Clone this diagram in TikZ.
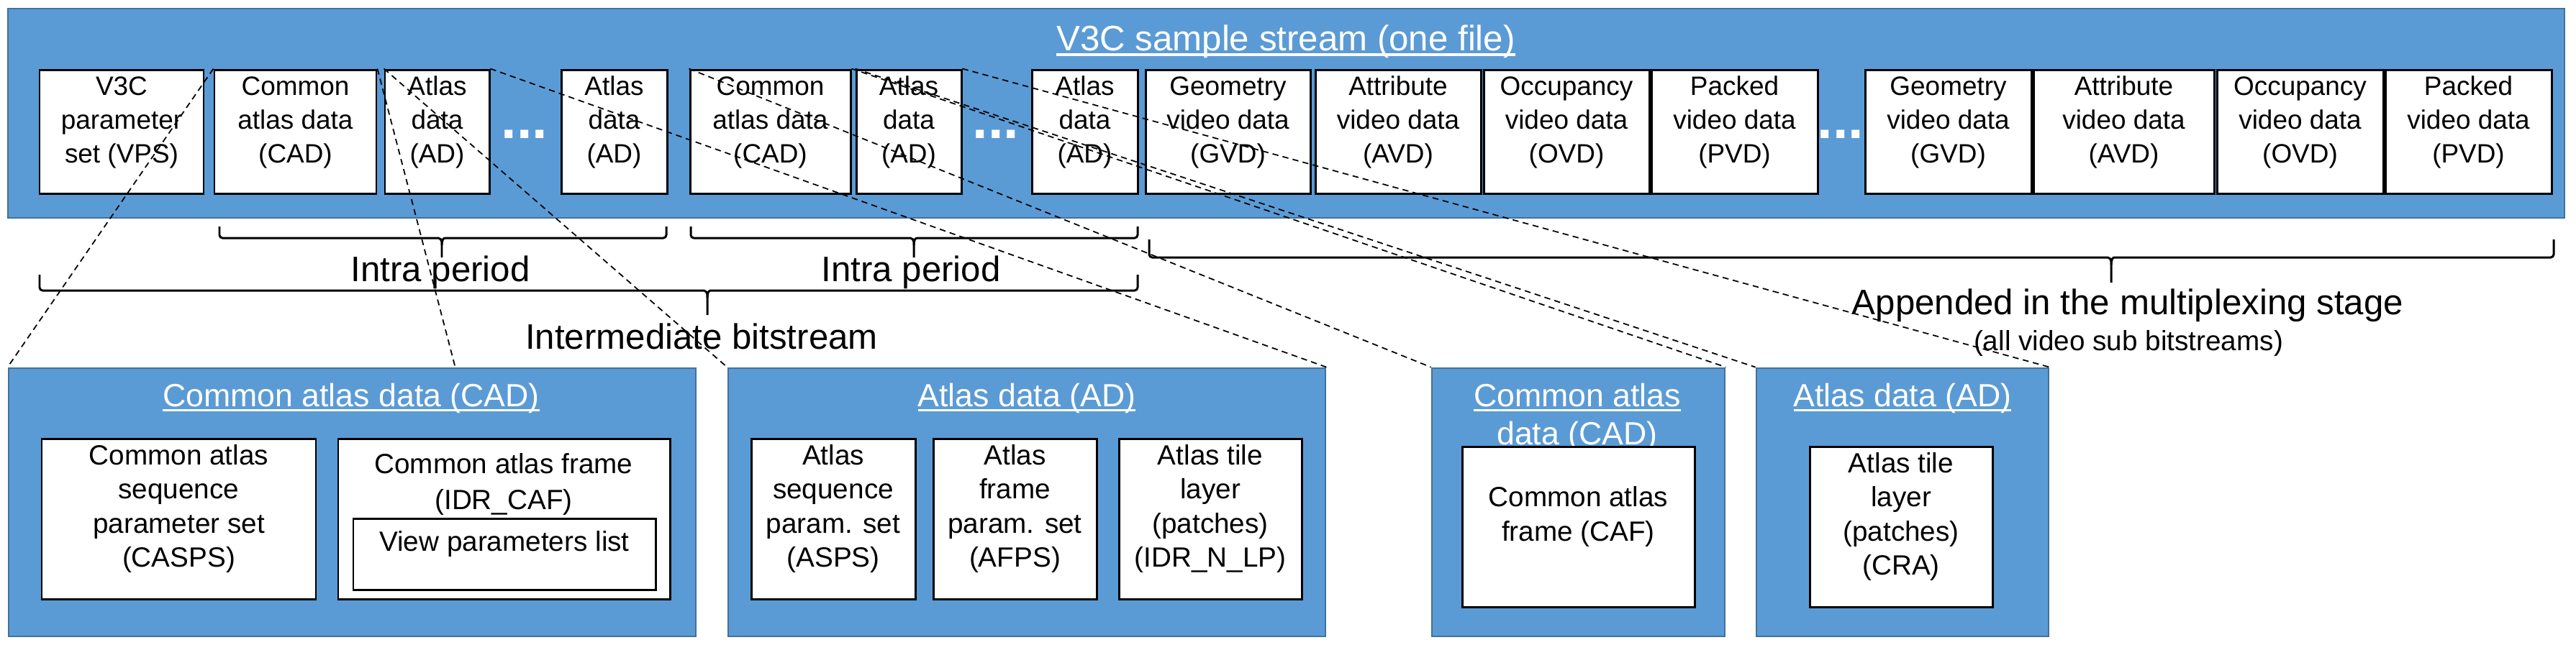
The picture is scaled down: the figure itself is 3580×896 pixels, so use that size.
\documentclass[tikz,border=0pt]{standalone}
\usepackage{fontspec}
\setmainfont{Liberation Sans}
\usetikzlibrary{fit}
\definecolor{pblue}{HTML}{5B9BD5}
\definecolor{pborder}{HTML}{41719C}
\newcommand\ulw[1]{\setbox0=\hbox{#1}\rlap{\rule[-0.16em]{\wd0}{0.07em}}\box0}
\newcommand\hbrace[6]{%
  \draw[bracestyle] (#1,#4) -- (#1,#5) -- (#3-9,#5) .. controls (#3-2,#5) and (#3,#5+3) .. (#3,#5+10) -- (#3,#6);
  \draw[bracestyle] (#3,#5+10) .. controls (#3,#5+3) and (#3+2,#5) .. (#3+9,#5) -- (#2,#5) -- (#2,#4);}
\begin{document}
\begin{tikzpicture}[x=0.01cm,y=-0.01cm,
  panel/.style={draw=pborder, fill=pblue, line width=0.8pt, inner sep=0pt},
  box/.style={draw=black, fill=white, line width=0.85pt, inner sep=0pt, align=center, font=\fontsize{10.5}{13.4}\selectfont},
  ibox/.style={box, font=\fontsize{11}{13.4}\selectfont},
  ttl/.style={text=white, font=\fontsize{14}{16}\selectfont, anchor=base, inner sep=0pt},
  ptl/.style={text=white, font=\fontsize{12.7}{15}\selectfont, anchor=base, inner sep=0pt},
  dotsstyle/.style={text=white, font=\fontsize{22}{22}\selectfont\bfseries, inner sep=0pt},
  lbl/.style={font=\fontsize{14}{16}\selectfont, anchor=base, inner sep=0pt},
  slbl/.style={font=\fontsize{11}{13}\selectfont, anchor=base, inner sep=0pt},
  itxt/.style={font=\fontsize{11}{13.4}\selectfont, anchor=base, inner sep=0pt},
  bracestyle/.style={line width=0.85pt, rounded corners=1.2pt},
  dline/.style={line width=0.5pt, dash pattern=on 2.4pt off 1.7pt}
]
\useasboundingbox (0,0) rectangle (3580,896);

% banner
\node[panel, fit={(11,12) (3564,303)}] (banner) {};
\node[ttl] (title) at (1787,70) {\ulw{V3C sample stream (one file)}};

% top row
\node[box, fit={(55,97) (283,269)}] (vps) {V3C\\parameter\\set (VPS)};
\node[box, fit={(298,97) (523,269)}] (cad1) {Common\\atlas data\\(CAD)};
\node[box, fit={(535,97) (680,269)}] (ad1) {Atlas\\data\\(AD)};
\node[dotsstyle] (dots1) at (729,187) {...};
\node[box, fit={(780,97) (927,269)}] (ad2) {Atlas\\data\\(AD)};
\node[box, fit={(959,97) (1182,269)}] (cad2) {Common\\atlas data\\(CAD)};
\node[box, fit={(1190,97) (1336,269)}] (ad3) {Atlas\\data\\(AD)};
\node[dotsstyle] (dots2) at (1384,187) {...};
\node[box, fit={(1434,97) (1581,269)}] (ad4) {Atlas\\data\\(AD)};
\node[box, fit={(1592,97) (1821,269)}] (gvd1) {Geometry\\video data\\(GVD)};
\node[box, fit={(1828,97) (2058,269)}] (avd1) {Attribute\\video data\\(AVD)};
\node[box, fit={(2062,97) (2292,269)}] (ovd1) {Occupancy\\video data\\(OVD)};
\node[box, fit={(2295,97) (2526,269)}] (pvd1) {Packed\\video data\\(PVD)};
\node[dotsstyle] (dots3) at (2558,187) {...};
\node[box, fit={(2592,97) (2823,269)}] (gvd2) {Geometry\\video data\\(GVD)};
\node[box, fit={(2826,97) (3077,269)}] (avd2) {Attribute\\video data\\(AVD)};
\node[box, fit={(3081,97) (3312,269)}] (ovd2) {Occupancy\\video data\\(OVD)};
\node[box, fit={(3315,97) (3546,269)}] (pvd2) {Packed\\video data\\(PVD)};

% braces
\hbrace{305}{926}{614}{315}{331}{358}
\node[lbl] (ip1) at (612,391) {Intra period};
\hbrace{960}{1581}{1270}{315}{331}{358}
\node[lbl] (ip2) at (1266,391) {Intra period};
\hbrace{55}{1581}{983}{382}{404}{438}
\node[lbl] (ib) at (975,485) {Intermediate bitstream};
\hbrace{1597}{3549}{2934}{333}{358}{393}
\node[lbl] (app) at (2957,437) {Appended in the multiplexing stage};
\node[slbl] (appsub) at (2958,487) {(all video sub bitstreams)};

% panel 1: CAD
\node[panel, fit={(12,512) (967,885)}] (cadP) {};
\node[ptl] (cadPt) at (488,565) {\ulw{Common atlas data (CAD)}};
\node[ibox, fit={(58,610) (439,833)}] (casps) {Common atlas\\sequence\\parameter set\\(CASPS)};
\node[ibox, fit={(470,610) (931,833)}] (idrcaf) {};
\node[itxt] (idrcaf1) at (700,658) {Common atlas frame};
\node[itxt] (idrcaf2) at (700,708) {(IDR\_CAF)};
\node[ibox, fit={(491,721) (911,820)}] (vpl) {View parameters list};

% panel 2: AD
\node[panel, fit={(1012,512) (1842,885)}] (adP) {};
\node[ptl] (adPt) at (1427,565) {\ulw{Atlas data (AD)}};
\node[ibox, fit={(1044,610) (1272,833)}] (asps) {Atlas\\sequence\\param. set\\(ASPS)};
\node[ibox, fit={(1297,610) (1524,833)}] (afps) {Atlas\\frame\\param. set\\(AFPS)};
\node[ibox, fit={(1555,610) (1809,833)}] (atl) {Atlas tile\\layer\\(patches)\\(IDR\_N\_LP)};

% panel 3: CAD (CAF)
\node[panel, fit={(1990,512) (2397,885)}] (cadP2) {};
\node[ptl] (cadP2t1) at (2192,565) {\ulw{Common atlas}};
\node[ptl] (cadP2t2) at (2192,618) {\ulw{data (CAD)}};
\node[ibox, fit={(2032,621) (2355,844)}] (caf) {Common atlas\\frame (CAF)};

% panel 4: AD (CRA)
\node[panel, fit={(2441,512) (2847,885)}] (adP2) {};
\node[ptl] (adP2t) at (2644,565) {\ulw{Atlas data (AD)}};
\node[ibox, fit={(2515,621) (2769,844)}] (cra) {Atlas tile\\layer\\(patches)\\(CRA)};

% dashed connectors
\coordinate (cadPmid) at (633,512);
\draw[dline] (cad1.north west) -- (cadP.north west);
\draw[dline] (cad1.north east) -- (cadPmid);
\draw[dline] (ad1.north west) -- (adP.north west);
\draw[dline] (ad1.north east) -- (adP.north east);
\draw[dline] (cad2.north west) -- (cadP2.north west);
\draw[dline] (cad2.north east) -- (cadP2.north east);
\draw[dline] (ad3.north west) -- (adP2.north west);
\draw[dline] (ad3.north east) -- (adP2.north east);
\end{tikzpicture}
\end{document}
